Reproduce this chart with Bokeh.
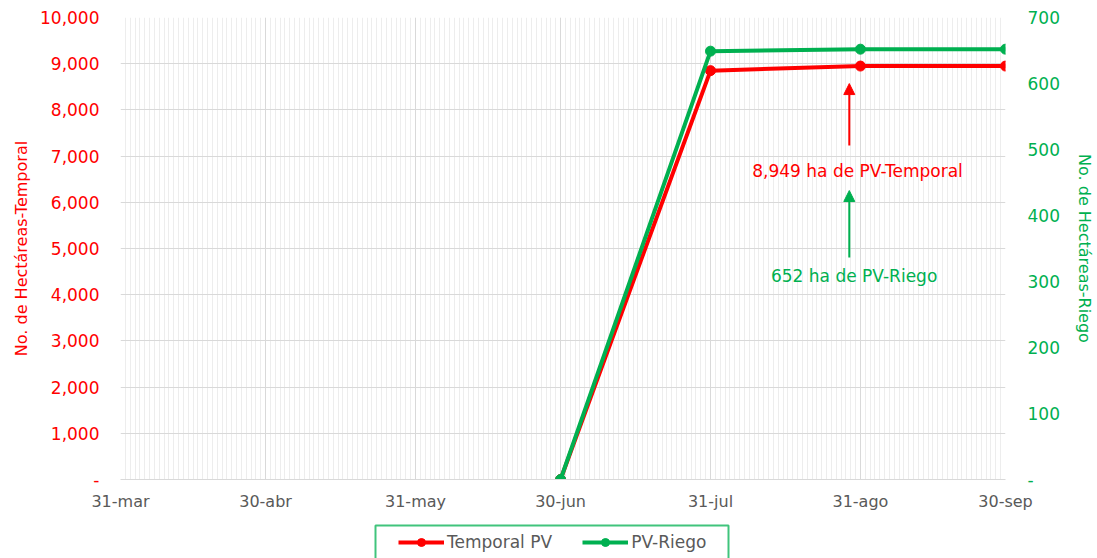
import pandas as pd
from bokeh.plotting import figure
from bokeh.layouts import column
from bokeh.models import (LinearAxis, Range1d, FixedTicker, Legend, LegendItem,
                          Arrow, NormalHead, Label)
from bokeh.embed import file_html
from bokeh.resources import INLINE

# ---- data ----
start_date = "2023-03-31"
tick_dates = ["2023-03-31", "2023-04-30", "2023-05-31", "2023-06-30",
              "2023-07-31", "2023-08-31", "2023-09-30"]
tick_labels = ["31-mar", "30-abr", "31-may", "30-jun", "31-jul", "31-ago", "30-sep"]
point_dates = ["2023-06-30", "2023-07-31", "2023-08-31", "2023-09-30"]
temporal_pv = [0, 8850, 8949, 8949]
pv_riego = [0, 649, 652, 652]
left_ticks = list(range(0, 10001, 1000))
right_ticks = list(range(0, 701, 100))
series_names = ["Temporal PV", "PV-Riego"]

RED = "#FF0000"
GREEN = "#00B050"
GRAY = "#595959"
FONT = "DejaVu Sans"

t0 = pd.Timestamp(start_date)
def day(d):
    return int((pd.Timestamp(d) - t0).days)

tick_x = [day(d) for d in tick_dates]
px = [day(d) for d in point_dates]
end_x = tick_x[-1]

W = 1097
FL, FR = 120, 1005  # frame edges (screen px)
p = figure(width=W, height=515, output_backend="svg", toolbar_location=None,
           x_range=Range1d(0, end_x), y_range=Range1d(0, 10000),
           min_border_left=FL, min_border_right=W - FR, min_border_top=17,
           min_border_bottom=36)
p.outline_line_color = None
p.extra_y_ranges = {"riego": Range1d(0, 700)}

# grids
p.xaxis.ticker = FixedTicker(ticks=tick_x, minor_ticks=list(range(0, end_x + 1)))
p.xgrid.ticker = p.xaxis.ticker
p.xgrid.grid_line_color = "#D9D9D9"
p.xgrid.minor_grid_line_color = "#EDEDED"
p.yaxis.ticker = FixedTicker(ticks=left_ticks)
p.ygrid.grid_line_color = "#D9D9D9"

# x axis
p.xaxis.major_label_overrides = {x: l for x, l in zip(tick_x, tick_labels)}
p.xaxis.major_label_text_color = GRAY
p.xaxis.major_label_text_font = FONT
p.xaxis.major_label_text_font_size = "16px"
p.xaxis.axis_line_color = "#D9D9D9"
p.xaxis.major_tick_line_color = None
p.xaxis.minor_tick_line_color = None
p.xaxis.major_tick_out = 0
p.xaxis.minor_tick_out = 0
p.xaxis.major_label_standoff = 12

# left axis
p.yaxis.major_label_overrides = {v: ("-" if v == 0 else f"{v:,}") for v in left_ticks}
p.yaxis.major_label_text_color = RED
p.yaxis.major_label_text_font = FONT
p.yaxis.major_label_text_font_size = "17px"
p.yaxis.axis_line_color = None
p.yaxis.major_tick_line_color = None
p.yaxis.minor_tick_line_color = None
p.yaxis.major_tick_out = 0
p.yaxis.minor_tick_out = 0
p.yaxis.major_label_standoff = 21
p.yaxis.axis_label = "No. de Hectáreas-Temporal"
p.yaxis.axis_label_text_color = RED
p.yaxis.axis_label_text_font = FONT
p.yaxis.axis_label_text_font_size = "16px"
p.yaxis.axis_label_text_font_style = "normal"
p.yaxis.axis_label_standoff = 6

# right axis
ra = LinearAxis(y_range_name="riego", ticker=FixedTicker(ticks=right_ticks))
ra.major_label_overrides = {v: ("-" if v == 0 else str(v)) for v in right_ticks}
ra.major_label_text_color = GREEN
ra.major_label_text_font = FONT
ra.major_label_text_font_size = "17px"
ra.axis_line_color = None
ra.major_tick_line_color = None
ra.minor_tick_line_color = None
ra.major_tick_out = 0
ra.minor_tick_out = 0
ra.major_label_standoff = 22
ra.axis_label = "No. de Hectáreas-Riego"
ra.axis_label_text_color = GREEN
ra.axis_label_text_font = FONT
ra.axis_label_text_font_size = "16px"
ra.axis_label_text_font_style = "normal"
ra.axis_label_standoff = 12
p.add_layout(ra, "right")

# series
p.line(px, temporal_pv, line_color=RED, line_width=4)
p.scatter(px, temporal_pv, size=10, color=RED)
p.line(px, pv_riego, line_color=GREEN, line_width=4, y_range_name="riego")
p.scatter(px, pv_riego, size=10, color=GREEN, y_range_name="riego")

# annotations
ax = 150.7
p.add_layout(Arrow(end=NormalHead(size=11, fill_color=RED, line_color=RED),
                   x_start=ax, y_start=7230, x_end=ax, y_end=8570,
                   line_color=RED, line_width=2))
p.add_layout(Label(x=152.4, y=6667, text="8,949 ha de PV-Temporal",
                   text_color=RED, text_font=FONT, text_font_size="17px",
                   text_align="center", text_baseline="middle"))
p.add_layout(Arrow(end=NormalHead(size=11, fill_color=GREEN, line_color=GREEN),
                   x_start=ax, y_start=4805, x_end=ax, y_end=6255,
                   line_color=GREEN, line_width=2))
p.add_layout(Label(x=151.7, y=4394, text="652 ha de PV-Riego",
                   text_color=GREEN, text_font=FONT, text_font_size="17px",
                   text_align="center", text_baseline="middle"))

# legend strip below the chart (frame aligned with the chart frame)
LH = 43
q = figure(width=W, height=LH, output_backend="svg", toolbar_location=None,
           x_range=Range1d(FL, FR), y_range=Range1d(0, LH),
           min_border_left=FL, min_border_right=W - FR, min_border_top=0,
           min_border_bottom=0)
q.axis.visible = False
q.grid.visible = False
q.outline_line_color = None
q.quad(left=[375], right=[728], top=[LH - 10], bottom=[-20],
       fill_color=None, line_color=GREEN, line_width=2, line_alpha=0.75)
hx, hy = [-5000, -4000], [-5000, -5000]  # off-screen samples for legend glyphs
l1 = q.line(hx, hy, line_color=RED, line_width=4)
c1 = q.scatter(hx, hy, size=6, color=RED)
l2 = q.line(hx, hy, line_color=GREEN, line_width=4)
c2 = q.scatter(hx, hy, size=6, color=GREEN)
legend = Legend(items=[LegendItem(label=series_names[0], renderers=[l1, c1]),
                       LegendItem(label=series_names[1], renderers=[l2, c2])],
                orientation="horizontal", location=(398 - FL, 6),
                border_line_color=None, background_fill_color=None,
                label_text_color=GRAY, label_text_font=FONT,
                label_text_font_size="17px", glyph_width=46, glyph_height=20,
                spacing=30, padding=5, margin=0, label_standoff=3)
q.add_layout(legend)

open("out.html", "w").write(file_html(column(p, q, spacing=0), INLINE))
